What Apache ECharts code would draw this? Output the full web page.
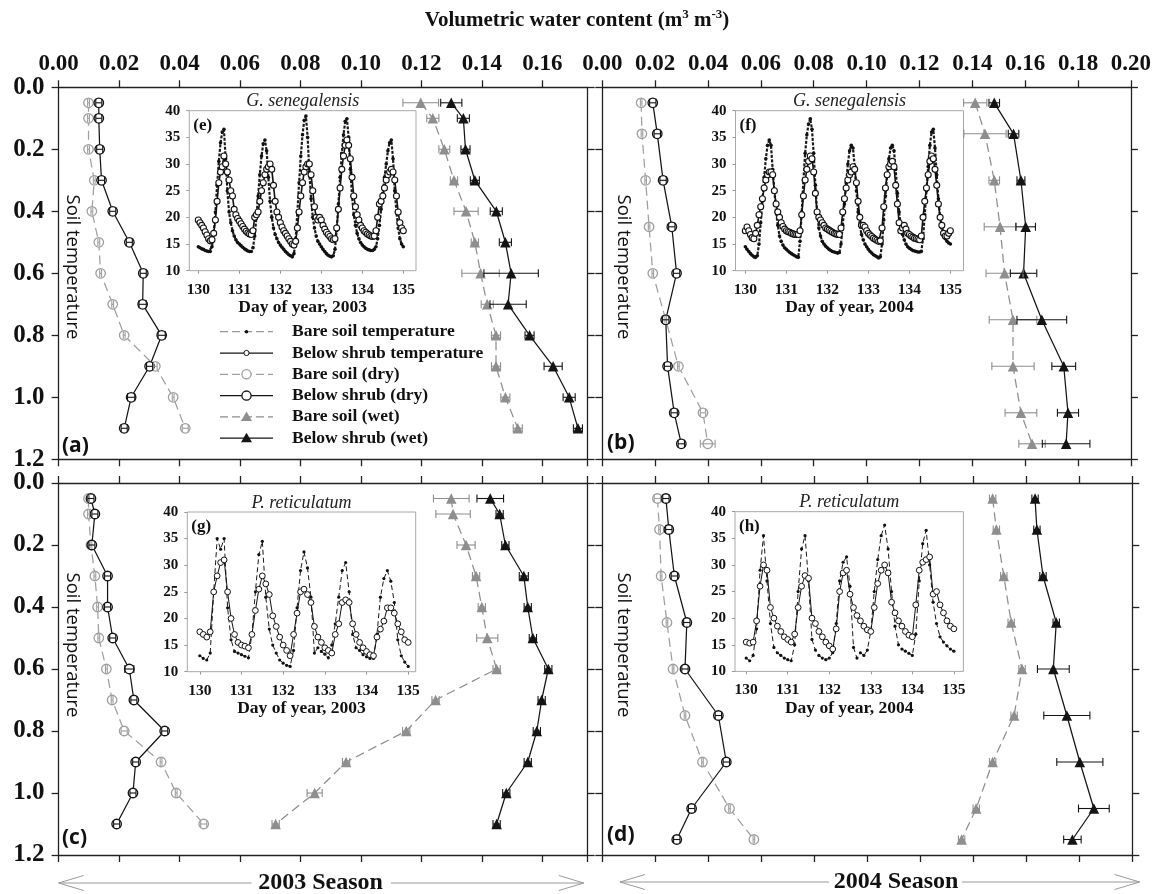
<!DOCTYPE html>
<html>
<head>
<meta charset="utf-8">
<title>Soil water and temperature profiles</title>
<script src="https://cdn.jsdelivr.net/npm/echarts@6/dist/echarts.min.js"></script>
<style>
  html, body { margin: 0; padding: 0; background: #fff; }
  #chart { width: 1154px; height: 894px; }
</style>
</head>
<body>
<div id="chart"></div>
<script>
// ---------- Depth profiles (m) ----------
const depths2003 = [0.05, 0.1, 0.2, 0.3, 0.4, 0.5, 0.6, 0.7, 0.8, 0.9, 1.0, 1.1];
const depths2004 = [0.05, 0.15, 0.3, 0.45, 0.6, 0.75, 0.9, 1.05, 1.15];

// (a) G. senegalensis, 2003 — volumetric water content (m3 m-3)
const aBareDry  = [0.0099, 0.0099, 0.0099, 0.0118, 0.0110, 0.0133, 0.0139, 0.0179, 0.0217, 0.0320, 0.0379, 0.0419];
const aShrubDry = [0.0133, 0.0133, 0.0136, 0.0142, 0.0179, 0.0234, 0.0280, 0.0278, 0.0341, 0.0301, 0.0240, 0.0217];
const aBareWet  = [0.1198, 0.1238, 0.1276, 0.1308, 0.1348, 0.1377, 0.1396, 0.1418, 0.1447, 0.1447, 0.1478, 0.1519];
const aShrubWet = [0.1299, 0.1339, 0.1346, 0.1377, 0.1448, 0.1478, 0.1497, 0.1487, 0.1558, 0.1636, 0.1689, 0.1718];
const aBareDryErr  = [0.0003, 0.0003, 0.0003, 0.0003, 0.0003, 0.0003, 0.0003, 0.0003, 0.0003, 0.0006, 0.0003, 0.0010];
const aShrubDryErr = [0.0010, 0.0010, 0.0010, 0.0010, 0.0010, 0.0010, 0.0010, 0.0012, 0.0012, 0.0010, 0.0012, 0.0010];
const aBareWetErr  = [0.0059, 0.0020, 0.0018, 0.0012, 0.0040, 0.0012, 0.0062, 0.0020, 0.0015, 0.0015, 0.0015, 0.0015];
const aShrubWetErr = [0.0035, 0.0020, 0.0015, 0.0015, 0.0020, 0.0020, 0.0090, 0.0060, 0.0015, 0.0030, 0.0020, 0.0015];

// (b) G. senegalensis, 2004
const bBareDry  = [0.0147, 0.0150, 0.0164, 0.0177, 0.0191, 0.0240, 0.0288, 0.0381, 0.0399];
const bShrubDry = [0.0191, 0.0208, 0.0230, 0.0263, 0.0281, 0.0240, 0.0247, 0.0272, 0.0299];
const bBareWet  = [0.1411, 0.1448, 0.1483, 0.1505, 0.1522, 0.1554, 0.1554, 0.1584, 0.1626];
const bShrubWet = [0.1483, 0.1556, 0.1584, 0.1602, 0.1594, 0.1663, 0.1746, 0.1762, 0.1755];
const bBareDryErr  = [0.0003, 0.0003, 0.0003, 0.0003, 0.0003, 0.0003, 0.0003, 0.0010, 0.0028];
const bShrubDryErr = [0.0012, 0.0012, 0.0012, 0.0012, 0.0012, 0.0012, 0.0012, 0.0012, 0.0012];
const bBareWetErr  = [0.0044, 0.0080, 0.0020, 0.0060, 0.0070, 0.0090, 0.0080, 0.0060, 0.0050];
const bShrubWetErr = [0.0020, 0.0020, 0.0015, 0.0037, 0.0050, 0.0094, 0.0045, 0.0040, 0.0090];

// (c) P. reticulatum, 2003
const cBareDry  = [0.0099, 0.0099, 0.0107, 0.0120, 0.0129, 0.0133, 0.0158, 0.0177, 0.0217, 0.0339, 0.0389, 0.0480];
const cShrubDry = [0.0107, 0.0120, 0.0110, 0.0162, 0.0162, 0.0179, 0.0234, 0.0249, 0.0351, 0.0255, 0.0246, 0.0192];
const cBareWet  = [0.1299, 0.1305, 0.1348, 0.1381, 0.1400, 0.1418, 0.1449, 0.1247, 0.1150, 0.0951, 0.0847, 0.0718];
const cShrubWet = [0.1428, 0.1459, 0.1478, 0.1539, 0.1552, 0.1569, 0.1620, 0.1598, 0.1582, 0.1552, 0.1481, 0.1449];
const cBareDryErr  = [0.0003, 0.0003, 0.0003, 0.0003, 0.0003, 0.0003, 0.0003, 0.0003, 0.0010, 0.0003, 0.0003, 0.0010];
const cShrubDryErr = [0.0010, 0.0010, 0.0010, 0.0010, 0.0010, 0.0010, 0.0015, 0.0010, 0.0010, 0.0010, 0.0010, 0.0010];
const cBareWetErr  = [0.0059, 0.0057, 0.0030, 0.0012, 0.0012, 0.0035, 0.0012, 0.0012, 0.0012, 0.0012, 0.0025, 0.0012];
const cShrubWetErr = [0.0044, 0.0012, 0.0012, 0.0015, 0.0012, 0.0012, 0.0012, 0.0012, 0.0012, 0.0012, 0.0012, 0.0012];

// (d) P. reticulatum, 2004
const dBareDry  = [0.0208, 0.0216, 0.0222, 0.0244, 0.0267, 0.0312, 0.0378, 0.0480, 0.0572];
const dShrubDry = [0.0240, 0.0251, 0.0272, 0.0319, 0.0312, 0.0438, 0.0468, 0.0337, 0.0281];
const dBareWet  = [0.1473, 0.1487, 0.1515, 0.1543, 0.1584, 0.1554, 0.1473, 0.1411, 0.1356];
const dShrubWet = [0.1633, 0.1640, 0.1663, 0.1713, 0.1702, 0.1753, 0.1802, 0.1855, 0.1774];
const dBareDryErr  = [0.0012, 0.0003, 0.0003, 0.0003, 0.0003, 0.0003, 0.0003, 0.0003, 0.0003];
const dShrubDryErr = [0.0012, 0.0012, 0.0012, 0.0012, 0.0012, 0.0012, 0.0012, 0.0012, 0.0012];
const dBareWetErr  = [0.0012, 0.0012, 0.0012, 0.0012, 0.0012, 0.0012, 0.0012, 0.0012, 0.0012];
const dShrubWetErr = [0.0012, 0.0012, 0.0012, 0.0012, 0.0060, 0.0087, 0.0087, 0.0058, 0.0033];

// ---------- Soil temperature (°C), days 130–135 ----------
const dayTicks = [130, 131, 132, 133, 134, 135];

// (e) G. senegalensis 2003, hourly readings from day 130.0
const eBareT = [
  14.5,14.3,14.1,14.0,13.8,13.7,13.6,13.6,14.5,17.0,21.0,26.0,30.5,34.0,36.0,36.5,31.0,25.0,21.0,19.0,17.5,16.5,15.8,15.3,
  15.0,14.7,14.4,14.1,13.9,13.7,13.6,13.6,14.3,16.5,20.0,24.0,28.0,31.5,33.8,34.5,32.5,27.5,23.0,20.0,18.0,16.8,16.0,15.3,
  14.8,14.4,14.0,13.6,13.3,13.0,12.8,12.6,13.2,16.0,21.0,26.5,31.5,35.5,38.2,39.0,35.0,28.5,23.5,20.0,18.0,16.5,15.5,15.0,
  14.5,14.0,13.6,13.2,12.9,12.7,12.6,12.8,14.0,17.5,22.5,27.5,32.0,35.5,38.0,38.5,35.0,29.0,24.0,20.5,18.5,17.0,16.0,15.3,
  14.8,14.5,14.2,14.0,13.9,13.8,13.8,14.0,14.5,16.0,18.5,21.5,24.5,27.5,30.0,32.5,34.0,34.5,31.0,25.0,21.0,18.0,16.0,15.0,
  14.5];
const eShrubT = [
  19.5,19.0,18.5,18.0,17.3,16.7,16.0,15.6,15.8,17.0,19.5,23.0,26.5,28.5,29.5,31.5,30.0,28.5,27.0,25.0,24.0,21.5,20.5,19.8,
  19.3,18.8,18.3,17.8,17.4,17.1,16.9,16.8,17.5,20.0,20.5,21.0,23.0,25.0,26.5,28.0,29.0,29.5,30.0,29.0,26.0,23.0,21.0,20.0,
  19.0,18.2,17.5,17.0,16.5,16.0,15.5,15.0,14.8,15.5,18.0,21.0,24.0,26.5,28.5,29.5,30.0,30.0,28.0,25.0,22.0,20.0,19.5,20.0,
  19.5,18.5,17.8,17.2,16.8,16.4,16.0,15.8,16.0,18.0,21.5,25.5,29.0,31.5,33.5,34.5,33.5,31.0,27.5,24.0,22.0,20.5,19.5,18.5,
  18.0,17.5,17.2,16.9,16.7,16.5,16.4,16.5,17.5,20.0,22.5,23.0,24.0,25.5,27.0,28.0,28.5,29.0,28.5,27.0,24.0,21.0,19.0,18.0,
  17.5];

// (f) G. senegalensis 2004, hourly
const fBareT = [
  14.5,14.0,13.6,13.2,12.9,12.6,12.5,12.8,15.0,19.0,23.0,27.5,31.0,33.5,34.5,33.5,29.0,25.0,21.0,18.5,16.5,15.5,14.8,14.3,
  14.0,13.7,13.4,13.2,13.0,12.8,12.6,12.5,15.5,21.0,27.0,32.0,35.5,37.5,38.5,36.5,32.0,26.0,21.0,18.0,16.5,15.5,15.0,14.6,
  14.3,14.0,13.8,13.6,13.5,13.4,13.3,13.4,15.0,18.5,22.5,26.5,30.0,32.5,33.5,33.0,29.5,25.0,21.0,18.5,16.8,15.8,15.0,14.5,
  14.0,13.6,13.3,13.0,12.8,12.6,12.4,12.6,15.0,19.5,24.0,28.0,31.0,33.0,33.5,32.5,29.0,24.5,21.0,18.5,16.8,15.8,15.0,14.5,
  14.2,14.0,13.8,13.7,13.6,13.5,13.5,13.6,16.0,20.5,25.0,29.5,33.5,36.0,36.5,33.0,28.0,23.5,20.0,18.0,16.8,16.0,15.5,15.2,
  15.0];
const fShrubT = [
  17.5,18.2,17.5,16.8,16.2,16.0,17.0,18.5,20.5,22.0,23.5,25.5,27.0,28.0,28.5,28.5,28.0,25.0,22.5,21.0,20.0,19.0,18.3,17.8,
  17.5,17.3,17.2,17.0,16.9,16.8,16.8,16.8,17.5,20.5,24.0,27.0,29.0,30.5,31.5,31.0,28.5,24.5,21.0,20.0,19.5,19.0,18.5,18.0,
  17.8,17.6,17.4,17.2,17.0,16.9,16.8,16.8,18.0,21.0,23.5,25.5,27.0,28.0,28.5,29.5,29.0,26.5,23.0,20.0,18.5,18.5,18.2,17.5,
  17.0,16.7,16.4,16.1,15.9,15.7,15.5,15.6,18.0,22.0,25.5,28.0,29.5,30.0,30.5,29.5,26.0,22.5,19.0,17.5,18.0,18.5,17.8,17.0,
  16.8,16.5,16.3,16.1,16.0,15.9,15.8,16.5,20.0,23.0,25.5,28.0,30.5,31.5,31.0,29.0,26.0,22.5,20.0,18.5,17.0,16.5,16.5,17.0,
  17.5];

// (g) P. reticulatum 2003, two-hourly
const gBareT = [
  13.0,12.5,12.2,13.5,25.0,35.0,33.0,35.0,22.0,16.0,13.8,13.5,
  13.2,12.9,12.6,17.0,25.0,32.0,34.5,24.0,18.0,15.0,13.5,12.2,
  11.6,11.2,11.0,14.0,22.0,29.0,32.5,29.5,24.0,13.5,14.5,13.8,
  13.3,12.6,15.0,19.0,24.0,29.0,30.5,25.0,17.0,14.5,14.0,13.2,
  12.8,12.5,12.5,17.0,24.0,27.5,29.0,27.0,23.0,16.0,13.0,11.8,
  11.0];
const gShrubT = [
  17.5,17.0,16.5,17.5,25.0,28.0,30.5,31.0,25.0,20.0,17.0,15.5,
  15.0,14.8,14.5,17.0,21.5,25.5,28.0,26.5,24.5,20.5,18.5,16.5,
  15.0,14.0,13.0,17.0,21.0,25.0,25.5,24.5,23.0,18.5,16.5,15.5,
  14.5,14.0,13.5,17.0,19.0,23.0,23.5,23.0,19.0,17.0,15.5,14.5,
  13.8,13.2,13.0,16.5,18.0,19.5,22.0,22.0,21.0,19.0,17.5,16.0,
  15.5];

// (h) P. reticulatum 2004, two-hourly
const hBareT = [
  12.5,12.0,13.0,18.0,29.0,35.5,27.0,19.0,14.5,13.5,13.0,12.5,
  12.2,12.0,15.0,25.0,33.0,35.5,27.0,16.0,14.0,13.0,12.5,12.2,
  12.5,13.5,19.0,27.0,30.5,31.5,26.0,14.5,12.5,13.5,13.0,14.0,
  17.5,25.0,31.0,35.5,37.5,33.0,25.0,18.5,15.0,14.2,13.8,13.4,
  13.0,17.0,27.0,34.0,36.5,30.0,23.0,19.0,16.5,15.5,14.8,14.2,
  13.8];
const hShrubT = [
  15.5,15.3,15.5,19.5,26.0,30.0,29.0,22.0,20.0,18.5,17.5,16.5,
  16.0,15.5,17.0,22.0,26.0,28.0,27.5,20.0,19.0,17.5,16.5,15.5,
  14.8,14.2,18.0,25.0,28.5,29.0,24.5,22.0,20.5,19.5,18.5,17.8,
  17.5,22.0,26.5,29.0,30.0,28.5,23.0,21.0,19.5,18.5,17.5,16.8,
  16.5,22.5,29.0,30.5,31.0,31.5,24.5,25.0,22.5,21.0,19.5,18.5,
  18.0];

const legendNames = ['Bare soil temperature', 'Below shrub temperature', 'Bare soil (dry)',
                     'Below shrub (dry)', 'Bare soil (wet)', 'Below shrub (wet)'];

// ---------- Layout and styling ----------
const SERIF = "'Liberation Serif', 'Times New Roman', serif";
const SANS = "'Open Sans', 'Noto Sans', sans-serif";
const AXIS = { color: '#222', width: 1.3 };
const GRAY_C = '#9f9f9f';
const GRAY_T = '#8e8e8e';
const BLACK = '#141414';

const panels = [
  { grid: { left: 58.6, top: 87.3, width: 529, height: 372 }, xMax: 0.175, topLabels: true, leftLabels: true,
    depths: depths2003, sets: [[aBareDry, aBareDryErr], [aShrubDry, aShrubDryErr], [aBareWet, aBareWetErr], [aShrubWet, aShrubWetErr]] },
  { grid: { left: 602.3, top: 87.3, width: 530, height: 372 }, xMax: 0.2, topLabels: true, leftLabels: false,
    depths: depths2004, sets: [[bBareDry, bBareDryErr], [bShrubDry, bShrubDryErr], [bBareWet, bBareWetErr], [bShrubWet, bShrubWetErr]] },
  { grid: { left: 58.6, top: 483, width: 529, height: 372 }, xMax: 0.175, topLabels: false, leftLabels: true,
    depths: depths2003, sets: [[cBareDry, cBareDryErr], [cShrubDry, cShrubDryErr], [cBareWet, cBareWetErr], [cShrubWet, cShrubWetErr]] },
  { grid: { left: 602.3, top: 483, width: 530, height: 372 }, xMax: 0.2, topLabels: false, leftLabels: false,
    depths: depths2004, sets: [[dBareDry, dBareDryErr], [dShrubDry, dShrubDryErr], [dBareWet, dBareWetErr], [dShrubWet, dShrubWetErr]] }
];

// one style per profile series, in the order of panel.sets
const profileStyles = [
  { name: 'Bare soil (dry)',   color: GRAY_C, dash: [9, 5],  symbol: 'circle',   size: 9.5, hollow: true },
  { name: 'Below shrub (dry)', color: BLACK,  dash: 'solid', symbol: 'circle',   size: 9.5, hollow: true },
  { name: 'Bare soil (wet)',   color: GRAY_T, dash: [9, 5],  symbol: 'triangle', size: 10.5, hollow: false },
  { name: 'Below shrub (wet)', color: BLACK,  dash: 'solid', symbol: 'triangle', size: 10.5, hollow: false }
];

const insets = [
  { grid: { left: 189.3, top: 110.7, width: 226.7, height: 160 }, xMin: 129.78, xMax: 135.31, step: 1 / 24,
    bare: eBareT, shrub: eShrubT, year: '2003', tag: '(e)', species: 'G. senegalensis', dense: true },
  { grid: { left: 735.5, top: 110.7, width: 228, height: 160 }, xMin: 129.76, xMax: 135.32, step: 1 / 24,
    bare: fBareT, shrub: fShrubT, year: '2004', tag: '(f)', species: 'G. senegalensis', dense: true },
  { grid: { left: 187.3, top: 512, width: 228.4, height: 159.7 }, xMin: 129.70, xMax: 135.18, step: 1 / 12,
    bare: gBareT, shrub: gShrubT, year: '2003', tag: '(g)', species: 'P. reticulatum', dense: false },
  { grid: { left: 735, top: 511.7, width: 228.4, height: 159.7 }, xMin: 129.73, xMax: 135.23, step: 1 / 12,
    bare: hBareT, shrub: hShrubT, year: '2004', tag: '(h)', species: 'P. reticulatum', dense: false }
];

const bigLabel = { fontFamily: SERIF, fontWeight: 'bold', fontSize: 23, color: '#111' };
const smallLabel = { fontFamily: SERIF, fontWeight: 'bold', fontSize: 15, color: '#111' };

const grids = [], xAxes = [], yAxes = [], series = [], graphics = [];

// horizontal error bars with end caps
function errorBars(color) {
  return function (params, api) {
    const x = api.value(0), y = api.value(1), e = api.value(2);
    const a = api.coord([x - e, y]), b = api.coord([x + e, y]);
    const h = 4;
    const st = { stroke: color, lineWidth: 1.1 };
    return {
      type: 'group', children: [
        { type: 'line', shape: { x1: a[0], y1: a[1], x2: b[0], y2: b[1] }, style: st },
        { type: 'line', shape: { x1: a[0], y1: a[1] - h, x2: a[0], y2: a[1] + h }, style: st },
        { type: 'line', shape: { x1: b[0], y1: b[1] - h, x2: b[0], y2: b[1] + h }, style: st }
      ]
    };
  };
}

// ---- main depth-profile panels ----
panels.forEach((p, k) => {
  grids.push(Object.assign({ containLabel: false }, p.grid));
  const xBase = {
    gridIndex: k, type: 'value', min: 0, max: p.xMax, interval: 0.02,
    axisLine: { show: true, onZero: false, lineStyle: AXIS },
    axisTick: { show: true, inside: false, length: 7, lineStyle: AXIS },
    splitLine: { show: false }
  };
  xAxes.push(Object.assign({}, xBase, {
    position: 'top',
    axisLabel: Object.assign({ show: p.topLabels, margin: 12, showMaxLabel: p.xMax === 0.2,
      formatter: v => v.toFixed(2) }, bigLabel)
  }));
  xAxes.push(Object.assign({}, xBase, { position: 'bottom', axisLabel: { show: false } }));
  const yBase = {
    gridIndex: k, type: 'value', inverse: true, min: 0, max: 1.2, interval: 0.2,
    axisLine: { show: true, onZero: false, lineStyle: AXIS },
    axisTick: { show: true, inside: false, length: 7, lineStyle: AXIS },
    splitLine: { show: false }
  };
  yAxes.push(Object.assign({}, yBase, {
    position: 'left',
    axisLabel: Object.assign({ show: p.leftLabels, margin: 14, formatter: v => v.toFixed(1) }, bigLabel, { fontSize: 25 })
  }));
  yAxes.push(Object.assign({}, yBase, { position: 'right', axisLabel: { show: false } }));

  p.sets.forEach((set, j) => {
    const st = profileStyles[j];
    const vals = set[0], errs = set[1];
    series.push({
      type: 'line', name: st.name, xAxisIndex: 2 * k, yAxisIndex: 2 * k,
      data: vals.map((v, i) => [v, p.depths[i]]),
      symbol: st.symbol, symbolSize: st.size,
      lineStyle: { color: st.color, width: 1.25, type: st.dash },
      itemStyle: st.hollow ? { color: '#fff', borderColor: st.color, borderWidth: 1.3 } : { color: st.color },
      z: 3, animation: false
    });
    series.push({
      type: 'custom', xAxisIndex: 2 * k, yAxisIndex: 2 * k, silent: true,
      data: vals.map((v, i) => [v, p.depths[i], errs[i]]),
      encode: { x: 0, y: 1 },
      renderItem: errorBars(st.color), z: 4, animation: false
    });
  });
});

// ---- temperature insets ----
insets.forEach((s, k) => {
  const gi = 4 + k, ai = 8 + k;
  grids.push(Object.assign({ show: true, borderColor: '#a8a8a8', borderWidth: 1,
    backgroundColor: 'rgba(0,0,0,0)', containLabel: false }, s.grid));
  xAxes.push({
    gridIndex: gi, type: 'value', position: 'bottom', min: s.xMin, max: s.xMax,
    axisLine: { show: false, onZero: false },
    axisTick: { show: true, length: 3, customValues: dayTicks, lineStyle: { color: '#999' } },
    axisLabel: Object.assign({ customValues: dayTicks, margin: 11 }, smallLabel, { fontSize: 15.5 }),
    splitLine: { show: false },
    name: 'Day of year, ' + s.year, nameLocation: 'middle', nameGap: 27,
    nameTextStyle: { fontFamily: SERIF, fontWeight: 'bold', fontSize: 17.5, color: '#111' }
  });
  yAxes.push({
    gridIndex: gi, type: 'value', min: 10, max: 40, interval: 5,
    axisLine: { show: false, onZero: false },
    axisTick: { show: true, length: 3, lineStyle: { color: '#999' } },
    axisLabel: Object.assign({ margin: 9 }, smallLabel),
    splitLine: { show: false }
  });
  // dense loggers give heavy, nearly continuous traces
  series.push({
    type: 'line', name: 'Bare soil temperature', xAxisIndex: ai, yAxisIndex: ai,
    data: s.bare.map((v, i) => [130 + i * s.step, v]),
    symbol: 'circle', symbolSize: s.dense ? 3.6 : 3.2,
    lineStyle: { color: '#1a1a1a', width: s.dense ? 2.2 : 1, type: s.dense ? [3, 1.5] : [5, 3] },
    itemStyle: { color: '#111' }, z: 3, animation: false
  });
  series.push({
    type: 'line', name: 'Below shrub temperature', xAxisIndex: ai, yAxisIndex: ai,
    data: s.shrub.map((v, i) => [130 + i * s.step, v]),
    symbol: 'circle', symbolSize: s.dense ? 6 : 5.8,
    lineStyle: { color: '#111', width: s.dense ? 1.6 : 1 },
    itemStyle: { color: '#fff', borderColor: '#111', borderWidth: s.dense ? 1.1 : 1 }, z: 4, animation: false
  });
  const g = s.grid;
  graphics.push({ type: 'text', x: g.left + g.width / 2, y: g.top - 9, z: 20,
    style: { text: s.species, fontFamily: SERIF, fontStyle: 'italic', fontSize: 18, fill: '#222',
      align: 'center', verticalAlign: 'middle' } });
  graphics.push({ type: 'text', x: g.left + 4, y: g.top + 15, z: 20,
    style: { text: s.tag, fontFamily: SERIF, fontWeight: 'bold', fontSize: 17, fill: '#111',
      align: 'left', verticalAlign: 'middle' } });
});

// ---- panel annotations ----
const sideLabels = [[72, 267], [623.6, 267], [72, 645], [623.6, 645]];
sideLabels.forEach(([x, y]) => graphics.push({
  type: 'text', x: x, y: y, rotation: -Math.PI / 2, z: 20,
  style: { text: 'Soil temperature', fontFamily: SANS, fontSize: 18.5, fill: '#111',
    align: 'center', verticalAlign: 'middle' }
}));
const panelTags = [['(a)', 62, 446], ['(b)', 607, 443], ['(c)', 62, 838], ['(d)', 607, 835]];
panelTags.forEach(([t, x, y]) => graphics.push({
  type: 'text', x: x, y: y, z: 20,
  style: { text: t, fontFamily: SANS, fontWeight: 'bold', fontSize: 21, fill: '#111',
    align: 'left', verticalAlign: 'middle' }
}));

// ---- legend (drawn inside panel a) ----
const legendSamples = [
  { color: '#999', dash: [8, 4], mark: 'dot' },
  { color: BLACK, dash: null, mark: 'ring' },
  { color: GRAY_C, dash: [8, 4], mark: 'circle' },
  { color: BLACK, dash: null, mark: 'circle' },
  { color: GRAY_T, dash: [8, 4], mark: 'triangle' },
  { color: BLACK, dash: null, mark: 'triangle' }
];
legendNames.forEach((name, i) => {
  const y = 331.7 + 21.3 * i, cx = 246.5, smp = legendSamples[i];
  graphics.push({ type: 'line', z: 20, shape: { x1: 220, y1: y, x2: 273, y2: y },
    style: { stroke: smp.color, lineWidth: 1.25, lineDash: smp.dash } });
  if (smp.mark === 'dot') {
    graphics.push({ type: 'circle', z: 21, shape: { cx: cx, cy: y, r: 1.8 }, style: { fill: '#111' } });
  } else if (smp.mark === 'ring') {
    graphics.push({ type: 'circle', z: 21, shape: { cx: cx, cy: y, r: 2.6 },
      style: { fill: '#fff', stroke: '#111', lineWidth: 1 } });
  } else if (smp.mark === 'circle') {
    graphics.push({ type: 'circle', z: 21, shape: { cx: cx, cy: y, r: 4.6 },
      style: { fill: '#fff', stroke: smp.color, lineWidth: 1.3 } });
  } else {
    graphics.push({ type: 'polygon', z: 21,
      shape: { points: [[cx, y - 5.5], [cx - 5.5, y + 4], [cx + 5.5, y + 4]] },
      style: { fill: smp.color } });
  }
  graphics.push({ type: 'text', x: 292, y: y, z: 21,
    style: { text: name, fontFamily: SERIF, fontWeight: 'bold', fontSize: 17.5, fill: '#111',
      align: 'left', verticalAlign: 'middle' } });
});

// ---- season arrows along the bottom ----
const seasons = [
  { label: '2003 Season', l: 58.6, r: 583.8, a: 251.5, b: 390.9, cx: 320.5, y: 883 },
  { label: '2004 Season', l: 620, r: 1139.6, a: 829, b: 962, cx: 896, y: 882 }
];
seasons.forEach(s => {
  const st = { stroke: '#9a9a9a', lineWidth: 1, fill: null };
  graphics.push({ type: 'polyline', shape: { points: [[s.l + 25, s.y - 7.5], [s.l, s.y], [s.l + 25, s.y + 7.5]] }, style: st });
  graphics.push({ type: 'line', shape: { x1: s.l, y1: s.y, x2: s.a, y2: s.y }, style: st });
  graphics.push({ type: 'line', shape: { x1: s.b, y1: s.y, x2: s.r, y2: s.y }, style: st });
  graphics.push({ type: 'polyline', shape: { points: [[s.r - 25, s.y - 7.5], [s.r, s.y], [s.r - 25, s.y + 7.5]] }, style: st });
  graphics.push({ type: 'text', x: s.cx, y: s.y, style: { text: s.label, fontFamily: SERIF, fontWeight: 'bold',
    fontSize: 24, fill: '#111', align: 'center', verticalAlign: 'middle' } });
});

const chart = echarts.init(document.getElementById('chart'), null, { renderer: 'canvas' });
chart.setOption({
  animation: false,
  backgroundColor: '#fff',
  title: [{
    text: 'Volumetric water content (m{s|3} m{s|-3})',
    left: 'center', top: 3,
    textStyle: {
      fontFamily: SERIF, fontWeight: 'bold', fontSize: 21, color: '#111', lineHeight: 26,
      rich: { s: { fontFamily: SERIF, fontWeight: 'bold', fontSize: 13, lineHeight: 13,
        verticalAlign: 'top', color: '#111' } }
    }
  }],
  grid: grids,
  xAxis: xAxes,
  yAxis: yAxes,
  series: series,
  graphic: graphics
});
</script>
</body>
</html>
